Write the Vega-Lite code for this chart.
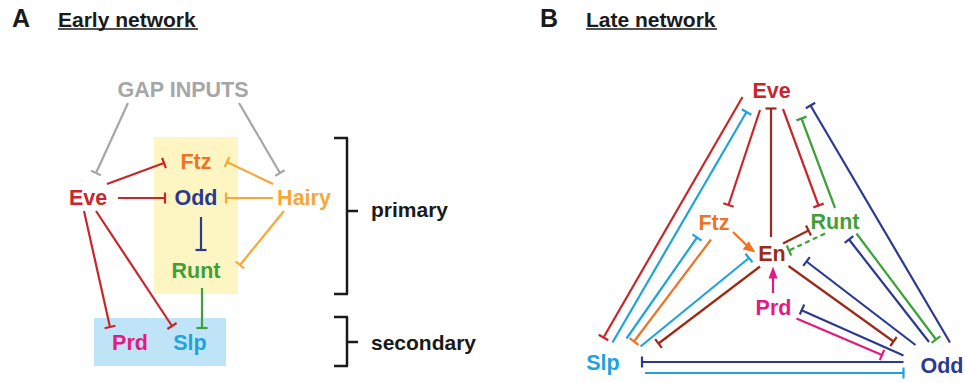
{
  "$schema": "https://vega.github.io/schema/vega-lite/v6.json",
  "width": 965,
  "height": 383,
  "autosize": {"type": "fit", "contains": "padding"},
  "padding": 0,
  "background": "white",
  "config": {"view": {"stroke": null}},
  "datasets": {
    "boxes": [
      {"c": "YellowBox", "x": 154, "x2": 238, "y": 137, "y2": 294},
      {"c": "BlueBox", "x": 94, "x2": 226, "y": 318, "y2": 366}
    ],
    "segs": [
      {"set": "edge", "c": "Gap", "x": 128, "y": 103, "x2": 96, "y2": 173},
      {"set": "edge", "c": "Gap", "x": 91, "y": 170.7, "x2": 101, "y2": 175.3},
      {"set": "edge", "c": "Gap", "x": 239, "y": 103, "x2": 280, "y2": 173},
      {"set": "edge", "c": "Gap", "x": 275.3, "y": 175.8, "x2": 284.7, "y2": 170.2},
      {"set": "edge", "c": "Eve", "x": 107, "y": 184, "x2": 164, "y2": 163},
      {"set": "edge", "c": "Eve", "x": 162.1, "y": 157.8, "x2": 165.9, "y2": 168.2},
      {"set": "edge", "c": "Eve", "x": 118, "y": 198, "x2": 165, "y2": 198},
      {"set": "edge", "c": "Eve", "x": 165, "y": 192.5, "x2": 165, "y2": 203.5},
      {"set": "edge", "c": "Hairy", "x": 273, "y": 184, "x2": 227, "y2": 162},
      {"set": "edge", "c": "Hairy", "x": 229.3, "y": 157, "x2": 224.7, "y2": 167},
      {"set": "edge", "c": "Hairy", "x": 273, "y": 198, "x2": 226, "y2": 198},
      {"set": "edge", "c": "Hairy", "x": 226, "y": 192.5, "x2": 226, "y2": 203.5},
      {"set": "edge", "c": "Hairy", "x": 284, "y": 211, "x2": 240, "y2": 265},
      {"set": "edge", "c": "Hairy", "x": 235.7, "y": 261.5, "x2": 244.3, "y2": 268.5},
      {"set": "edge", "c": "Odd", "x": 201, "y": 217, "x2": 201, "y2": 250},
      {"set": "edge", "c": "Odd", "x": 195.5, "y": 250, "x2": 206.5, "y2": 250},
      {"set": "edge", "c": "Runt", "x": 202, "y": 288, "x2": 202, "y2": 328},
      {"set": "edge", "c": "Runt", "x": 196.5, "y": 328, "x2": 207.5, "y2": 328},
      {"set": "edge", "c": "Eve", "x": 84, "y": 211, "x2": 110, "y2": 327},
      {"set": "edge", "c": "Eve", "x": 104.6, "y": 328.2, "x2": 115.4, "y2": 325.8},
      {"set": "edge", "c": "Eve", "x": 96, "y": 211, "x2": 172, "y2": 326},
      {"set": "edge", "c": "Eve", "x": 167.4, "y": 329, "x2": 176.6, "y2": 323},

      {"set": "edge", "c": "Eve", "x": 742.5, "y": 97, "x2": 603.5, "y2": 337.5},
      {"set": "edge", "c": "Eve", "x": 598.7, "y": 334.8, "x2": 608.3, "y2": 340.2},
      {"set": "edge", "c": "Slp", "x": 612.5, "y": 342.5, "x2": 746.5, "y2": 112},
      {"set": "edge", "c": "Slp", "x": 741.7, "y": 109.2, "x2": 751.3, "y2": 114.8},
      {"set": "edge", "c": "Eve", "x": 760, "y": 110, "x2": 728.5, "y2": 205},
      {"set": "edge", "c": "Eve", "x": 723.3, "y": 203.3, "x2": 733.7, "y2": 206.7},
      {"set": "edge", "c": "En", "x": 771, "y": 237, "x2": 771, "y2": 108.5},
      {"set": "edge", "c": "En", "x": 765.5, "y": 108.5, "x2": 776.5, "y2": 108.5},
      {"set": "edge", "c": "Eve", "x": 783, "y": 109, "x2": 818.5, "y2": 205.5},
      {"set": "edge", "c": "Eve", "x": 813.3, "y": 207.4, "x2": 823.7, "y2": 203.6},
      {"set": "edge", "c": "Runt", "x": 835, "y": 208, "x2": 801.5, "y2": 118.5},
      {"set": "edge", "c": "Runt", "x": 806.6, "y": 116.6, "x2": 796.4, "y2": 120.4},
      {"set": "edge", "c": "Odd", "x": 950, "y": 342.5, "x2": 810.5, "y2": 105.5},
      {"set": "edge", "c": "Odd", "x": 815.2, "y": 102.7, "x2": 805.8, "y2": 108.3},
      {"set": "edge", "c": "Slp", "x": 626.5, "y": 338.5, "x2": 697, "y2": 237.5},
      {"set": "edge", "c": "Slp", "x": 692.5, "y": 234.4, "x2": 701.5, "y2": 240.6},
      {"set": "edge", "c": "Ftz", "x": 711, "y": 239.5, "x2": 634, "y2": 341.5},
      {"set": "edge", "c": "Ftz", "x": 629.6, "y": 338.2, "x2": 638.4, "y2": 344.8},
      {"set": "edge", "c": "Slp", "x": 640.5, "y": 346.5, "x2": 749, "y2": 258},
      {"set": "edge", "c": "Slp", "x": 745.5, "y": 253.7, "x2": 752.5, "y2": 262.3},
      {"set": "edge", "c": "En", "x": 760, "y": 266.5, "x2": 658.5, "y2": 343.5},
      {"set": "edge", "c": "En", "x": 655.2, "y": 339.1, "x2": 661.8, "y2": 347.9},
      {"set": "edge", "c": "Ftz", "x": 733, "y": 232, "x2": 749, "y2": 247.5},
      {"set": "edge", "c": "En", "x": 783, "y": 243.5, "x2": 808.5, "y2": 230.5},
      {"set": "edge", "c": "En", "x": 806, "y": 225.6, "x2": 811, "y2": 235.4},
      {"set": "dashed", "c": "Runt", "x": 825, "y": 233.5, "x2": 789, "y2": 250.5},
      {"set": "edge", "c": "Runt", "x": 786.7, "y": 245.5, "x2": 791.3, "y2": 255.5},
      {"set": "edge", "c": "Prd", "x": 773, "y": 293, "x2": 773, "y2": 275},
      {"set": "edge", "c": "Odd", "x": 929, "y": 342, "x2": 849, "y2": 239.5},
      {"set": "edge", "c": "Odd", "x": 853.3, "y": 236.1, "x2": 844.7, "y2": 242.9},
      {"set": "edge", "c": "Runt", "x": 856.5, "y": 233.5, "x2": 936, "y2": 339.5},
      {"set": "edge", "c": "Runt", "x": 931.6, "y": 342.8, "x2": 940.4, "y2": 336.2},
      {"set": "edge", "c": "Odd", "x": 915.5, "y": 345, "x2": 806.5, "y2": 261.5},
      {"set": "edge", "c": "Odd", "x": 809.8, "y": 257.1, "x2": 803.2, "y2": 265.9},
      {"set": "edge", "c": "En", "x": 788.5, "y": 266, "x2": 893.5, "y2": 341.5},
      {"set": "edge", "c": "En", "x": 890.3, "y": 346, "x2": 896.7, "y2": 337},
      {"set": "edge", "c": "Odd", "x": 903.5, "y": 355.5, "x2": 801, "y2": 310},
      {"set": "edge", "c": "Odd", "x": 804.2, "y": 304.5, "x2": 799.8, "y2": 314.5},
      {"set": "edge", "c": "Prd", "x": 796.5, "y": 318.5, "x2": 882, "y2": 355},
      {"set": "edge", "c": "Prd", "x": 879.8, "y": 360.1, "x2": 884.2, "y2": 349.9},
      {"set": "edge", "c": "Odd", "x": 903.5, "y": 362, "x2": 642, "y2": 362},
      {"set": "edge", "c": "Odd", "x": 642, "y": 356.5, "x2": 642, "y2": 367.5},
      {"set": "edge", "c": "Slp", "x": 645, "y": 373, "x2": 903.5, "y2": 373},
      {"set": "edge", "c": "Slp", "x": 903.5, "y": 367.5, "x2": 903.5, "y2": 378.5},

      {"set": "bracket", "c": "Black", "x": 347, "y": 138, "x2": 347, "y2": 294},
      {"set": "bracket", "c": "Black", "x": 334, "y": 138, "x2": 348, "y2": 138},
      {"set": "bracket", "c": "Black", "x": 334, "y": 294, "x2": 348, "y2": 294},
      {"set": "bracket", "c": "Black", "x": 347, "y": 211, "x2": 358, "y2": 211},
      {"set": "bracket", "c": "Black", "x": 347, "y": 317, "x2": 347, "y2": 366},
      {"set": "bracket", "c": "Black", "x": 334, "y": 317, "x2": 348, "y2": 317},
      {"set": "bracket", "c": "Black", "x": 334, "y": 366, "x2": 348, "y2": 366},
      {"set": "bracket", "c": "Black", "x": 347, "y": 342, "x2": 358, "y2": 342},

      {"set": "underline", "c": "Black", "x": 58, "y": 29, "x2": 198, "y2": 29},
      {"set": "underline", "c": "Black", "x": 586, "y": 29, "x2": 717, "y2": 29}
    ],
    "arrows": [
      {"head": "ftz", "c": "Ftz", "x": 750.6, "y": 249},
      {"head": "prd", "c": "Prd", "x": 773, "y": 272.5}
    ],
    "labels": [
      {"role": "panel", "c": "Black", "text": "A", "x": 12, "y": 27},
      {"role": "panel", "c": "Black", "text": "B", "x": 540, "y": 27},
      {"role": "title", "c": "Black", "text": "Early network", "x": 58, "y": 26.5},
      {"role": "title", "c": "Black", "text": "Late network", "x": 586, "y": 26.5},
      {"role": "side", "c": "Black", "text": "primary", "x": 371, "y": 216.5},
      {"role": "side", "c": "Black", "text": "secondary", "x": 371, "y": 350},
      {"role": "gene", "c": "Gap", "text": "GAP INPUTS", "x": 183, "y": 96.5},
      {"role": "gene", "c": "Ftz", "text": "Ftz", "x": 196, "y": 169},
      {"role": "gene", "c": "Eve", "text": "Eve", "x": 88, "y": 205},
      {"role": "gene", "c": "Odd", "text": "Odd", "x": 196, "y": 205},
      {"role": "gene", "c": "Hairy", "text": "Hairy", "x": 304, "y": 205},
      {"role": "gene", "c": "Runt", "text": "Runt", "x": 196, "y": 277.5},
      {"role": "gene", "c": "Prd", "text": "Prd", "x": 130, "y": 350},
      {"role": "gene", "c": "Slp", "text": "Slp", "x": 190, "y": 350},
      {"role": "gene", "c": "Eve", "text": "Eve", "x": 771.5, "y": 98},
      {"role": "gene", "c": "Ftz", "text": "Ftz", "x": 714, "y": 230},
      {"role": "gene", "c": "Runt", "text": "Runt", "x": 835, "y": 229},
      {"role": "gene", "c": "En", "text": "En", "x": 772, "y": 261},
      {"role": "gene", "c": "Prd", "text": "Prd", "x": 773.5, "y": 315},
      {"role": "gene", "c": "Slp", "text": "Slp", "x": 603, "y": 370},
      {"role": "gene", "c": "Odd", "text": "Odd", "x": 942, "y": 373}
    ]
  },
  "encoding": {
    "x": {"field": "x", "type": "quantitative", "scale": {"domain": [0, 965], "nice": false, "zero": false}, "axis": null},
    "y": {"field": "y", "type": "quantitative", "scale": {"domain": [0, 383], "nice": false, "zero": false, "reverse": true}, "axis": null},
    "color": {
      "field": "c", "type": "nominal", "legend": null,
      "scale": {
        "domain": ["Eve", "Ftz", "Odd", "Hairy", "Runt", "Prd", "Slp", "En", "Gap", "Black", "YellowBox", "BlueBox"],
        "range": ["#c9252c", "#ec7424", "#2b3990", "#f7a738", "#3fa03a", "#e5197f", "#1fa3dd", "#9b2a16", "#a6a6a6", "#1a1a1a", "#fdf5c2", "#bfe4f7"]
      }
    }
  },
  "layer": [
    {
      "data": {"name": "boxes"},
      "mark": {"type": "rect", "opacity": 1},
      "encoding": {"x2": {"field": "x2"}, "y2": {"field": "y2"}}
    },
    {
      "data": {"name": "segs"},
      "transform": [{"filter": "datum.set === 'edge'"}],
      "mark": {"type": "rule", "strokeWidth": 2.2},
      "encoding": {"x2": {"field": "x2"}, "y2": {"field": "y2"}}
    },
    {
      "data": {"name": "segs"},
      "transform": [{"filter": "datum.set === 'dashed'"}],
      "mark": {"type": "rule", "strokeWidth": 2.2, "strokeDash": [5, 3.5]},
      "encoding": {"x2": {"field": "x2"}, "y2": {"field": "y2"}}
    },
    {
      "data": {"name": "segs"},
      "transform": [{"filter": "datum.set === 'bracket'"}],
      "mark": {"type": "rule", "strokeWidth": 2.5},
      "encoding": {"x2": {"field": "x2"}, "y2": {"field": "y2"}}
    },
    {
      "data": {"name": "segs"},
      "transform": [{"filter": "datum.set === 'underline'"}],
      "mark": {"type": "rule", "strokeWidth": 1.6},
      "encoding": {"x2": {"field": "x2"}, "y2": {"field": "y2"}}
    },
    {
      "data": {"name": "arrows"},
      "transform": [{"filter": "datum.head === 'ftz'"}],
      "mark": {"type": "point", "shape": "M0,-1L0.85,1L-0.85,1Z", "filled": true, "opacity": 1, "size": 144, "angle": 126}
    },
    {
      "data": {"name": "arrows"},
      "transform": [{"filter": "datum.head === 'prd'"}],
      "mark": {"type": "point", "shape": "M0,-1L0.75,1L-0.75,1Z", "filled": true, "opacity": 1, "size": 144, "angle": 0}
    },
    {
      "data": {"name": "labels"},
      "transform": [{"filter": "datum.role === 'gene'"}],
      "mark": {"type": "text", "font": "Liberation Sans", "fontWeight": "bold", "fontSize": 21.5, "align": "center", "baseline": "alphabetic"},
      "encoding": {"text": {"field": "text"}}
    },
    {
      "data": {"name": "labels"},
      "transform": [{"filter": "datum.role === 'title' || datum.role === 'side'"}],
      "mark": {"type": "text", "font": "Liberation Sans", "fontWeight": "bold", "fontSize": 21, "align": "left", "baseline": "alphabetic"},
      "encoding": {"text": {"field": "text"}}
    },
    {
      "data": {"name": "labels"},
      "transform": [{"filter": "datum.role === 'panel'"}],
      "mark": {"type": "text", "font": "Liberation Sans", "fontWeight": "bold", "fontSize": 25, "align": "left", "baseline": "alphabetic"},
      "encoding": {"text": {"field": "text"}}
    }
  ]
}
